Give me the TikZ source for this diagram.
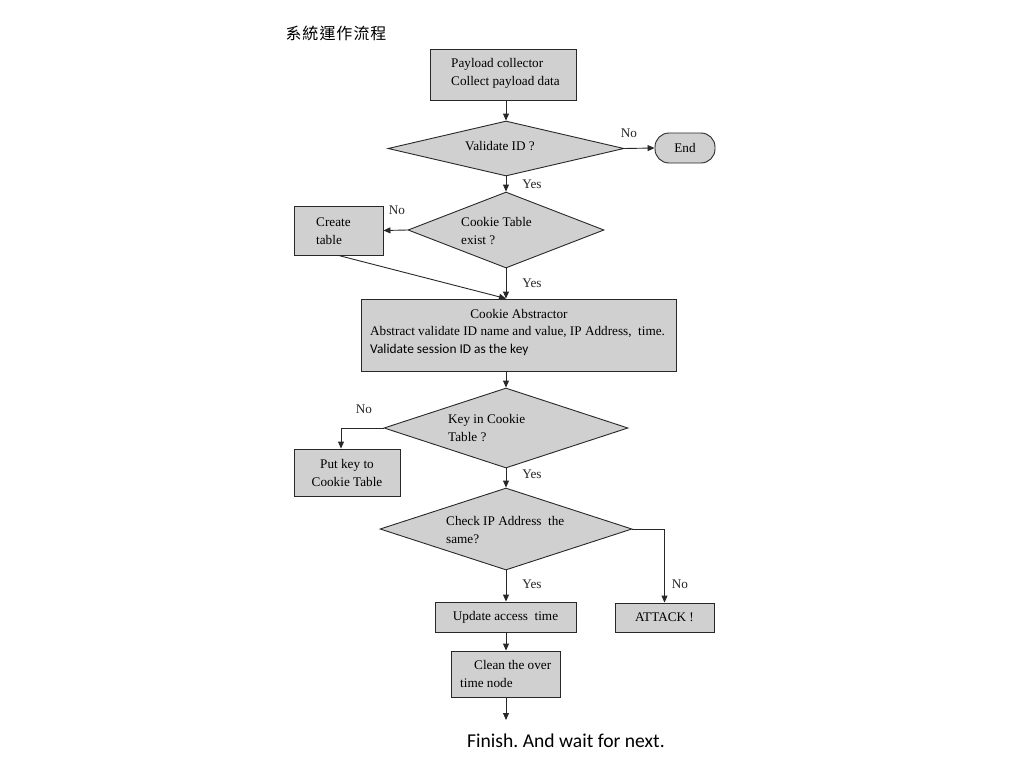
\documentclass[tikz,border=0pt]{standalone}
\usepackage{fontspec}
\setmainfont{Liberation Serif}
\newfontfamily\calfont{Carlito}
\newfontfamily\cjk{Noto Sans CJK TC}
\usetikzlibrary{shapes.geometric,arrows.meta}
\definecolor{boxgray}{RGB}{208,208,208}
\definecolor{edgecol}{RGB}{40,40,40}
\frenchspacing
\begin{document}
\begin{tikzpicture}[x=1pt,y=-1pt,
  box/.style={draw=edgecol,fill=boxgray,line width=0.9pt,inner sep=0pt,font=\fontsize{13.2}{18}\selectfont},
  dia/.style={diamond,draw=edgecol,fill=boxgray,line width=0.9pt,inner sep=0pt},
  txt/.style={font=\fontsize{13.2}{18}\selectfont,inner sep=0pt,anchor=west,align=left},
  lbl/.style={font=\fontsize{13.2}{15}\selectfont,inner sep=0pt,text=black!85},
  arr/.style={-{Triangle[length=7pt,width=6pt]},draw=edgecol,line width=0.9pt}]
\useasboundingbox (0,0) rectangle (1024,768);
\fill[white] (0,0) rectangle (1024,768);

\node[inner sep=0pt,font=\cjk\fontsize{16}{18}\selectfont] (title) at (336,33)
  {系\kern1pt 統\kern1pt 運\kern1pt 作\kern1pt 流\kern1pt 程};

\node[box,minimum width=146,minimum height=51] (payload) at (503,74.5) {};
\node[txt] (payloadt) at (451,73) {Payload collector\\Collect payload data};

\node[dia,minimum width=236,minimum height=55] (vid) at (506,148.5) {};
\node[txt,anchor=center] (vidt) at (500,146) {Validate ID ?};

\node[box,rounded corners=14pt,minimum width=60,minimum height=30] (end) at (685,148) {End};

\node[dia,minimum width=196,minimum height=76] (cookie) at (506,230) {};
\node[txt] (cookiet) at (461,231) {Cookie Table\\exist ?};

\node[box,minimum width=89,minimum height=49] (create) at (338.5,230.5) {};
\node[txt] (createt) at (316,231) {Create\\table};

\node[box,minimum width=315,minimum height=72] (abstr) at (518.5,335) {};
\node[txt,anchor=center] (abstr1) at (519,314) {Cookie Abstractor};
\node[txt] (abstr2) at (370,332) {Abstract validate ID name and value, IP Address,\ \ time.};
\node[txt,font=\calfont\fontsize{13.4}{15}\selectfont] (abstr3) at (370,350) {Validate session ID as the key};

\node[dia,minimum width=244,minimum height=80] (key) at (506,428) {};
\node[txt] (keyt) at (448,428) {Key in Cookie\\Table ?};

\node[box,minimum width=106,minimum height=47,align=center] (putkey) at (347,472.5)
  {Put key to\\Cookie Table};

\node[dia,minimum width=252,minimum height=82] (check) at (506,529) {};
\node[txt] (checkt) at (446,530) {Check IP Address\ \ the\\same?};

\node[box,minimum width=141,minimum height=30] (update) at (505.5,617) {Update access\ \ time};
\node[box,minimum width=99,minimum height=29] (attack) at (664.5,617.5) {ATTACK !};

\node[box,minimum width=109,minimum height=46] (clean) at (505.5,674) {};
\node[txt] (cleant) at (460,674) {\hspace*{14pt}Clean the over\\time node};

\coordinate (fin) at (506,720);
\node[inner sep=0pt,font=\calfont\fontsize{19.6}{22}\selectfont] (finish) at (566,741)
  {Finish. And wait for next.};

% connectors
\draw[arr] (vid.north |- payload.south) -- (vid.north);
\draw[arr] (vid.east) -- (end.west);
\node[lbl] (no1) at (629,133) {No};
\draw[arr] (vid.south) -- (cookie.north);
\node[lbl] (yes1) at (532,184) {Yes};
\draw[arr] (cookie.west) -- (create.east);
\node[lbl] (no2) at (397,210) {No};
\draw[arr] (create.south) -- (cookie.south |- abstr.north);
\draw[arr] (cookie.south) -- (cookie.south |- abstr.north);
\node[lbl] (yes2) at (532,283) {Yes};
\draw[arr] (key.north |- abstr.south) -- (key.north);
\draw[arr] (key.west) -| ([xshift=-6pt]putkey.north);
\node[lbl] (no3) at (364,409) {No};
\draw[arr] (key.south) -- (check.north);
\node[lbl] (yes3) at (532,474) {Yes};
\draw[arr] (check.south) -- (update.north -| check.south);
\node[lbl] (yes4) at (532,584) {Yes};
\draw[arr] (check.east) -| (attack.north);
\node[lbl] (no4) at (680,584) {No};
\draw[arr] (update.south -| check.south) -- (clean.north -| check.south);
\draw[arr] (clean.south -| check.south) -- (fin);
\end{tikzpicture}
\end{document}
